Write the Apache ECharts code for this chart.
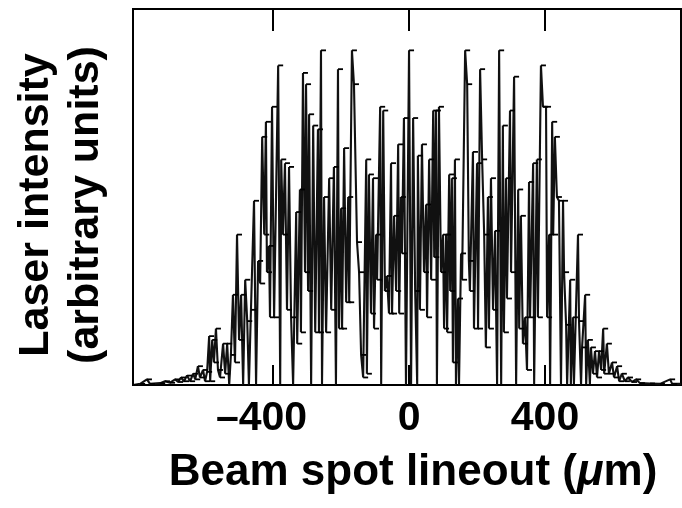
<!DOCTYPE html>
<html>
<head>
<meta charset="utf-8">
<script src="https://cdn.jsdelivr.net/npm/echarts@6.0.0/dist/echarts.min.js"></script>
<style>
  html, body { margin: 0; padding: 0; background: #fff; }
  #main { width: 682px; height: 508px; }
</style>
</head>
<body>
<div id="main"></div>
<script>
// beam spot lineout (um, arbitrary intensity units)
var positionUm = [
  -812, -791, -771, -762, -732, -718, -703, -688, -679, -671,
  -662, -653, -644, -635, -629, -621, -615, -606, -600, -594,
  -588, -585, -579, -574, -568, -562, -556, -547, -541, -535,
  -529, -524, -518, -512, -506, -500, -494, -488, -482, -476,
  -471, -465, -456, -450, -444, -438, -432, -426, -421, -418,
  -412, -409, -403, -397, -385, -379, -376, -371, -365, -359,
  -353, -347, -341, -332, -329, -321, -318, -312, -306, -303,
  -297, -294, -288, -282, -276, -268, -265, -259, -256, -250,
  -244, -235, -229, -221, -215, -209, -206, -200, -197, -191,
  -185, -179, -176, -168, -162, -153, -147, -141, -135, -126,
  -124, -118, -112, -106, -103, -97, -94, -85, -82, -76,
  -71, -65, -59, -53, -50, -44, -38, -32, -29, -24,
  -21, -15, -9, 0, 6, 12, 18, 24, 26, 32,
  38, 44, 50, 53, 59, 65, 71, 74, 79, 82,
  88, 94, 100, 103, 109, 112, 118, 121, 126, 129,
  135, 138, 144, 147, 153, 156, 165, 171, 176, 179,
  188, 191, 200, 203, 209, 215, 221, 226, 232, 235,
  241, 247, 253, 259, 265, 271, 276, 279, 285, 288,
  297, 300, 309, 315, 321, 324, 329, 335, 341, 347,
  353, 356, 365, 368, 376, 379, 388, 394, 403, 406,
  412, 415, 421, 424, 429, 435, 441, 447, 453, 456,
  462, 465, 474, 476, 482, 485, 497, 500, 506, 509,
  518, 521, 526, 532, 535, 541, 547, 553, 559, 565,
  571, 574, 582, 588, 597, 603, 612, 618, 626, 635,
  644, 656, 668, 679, 709, 738, 768, 774, 800
];
var intensity = [
  0, 0.3, 1.5, 0.3, 0.5, 1, 0.6, 1.5, 0.8, 2,
  1, 2.5, 1, 3, 1.5, 5, 2, 4, 1, 3.5,
  13, 1, 12, 6, 15, 4, 2, 11, 3, 11,
  0, 8, 24, 6, 40, 12, 24, 0, 28, 17,
  0, 20, 49, 0, 33, 27, 66, 40, 70, 30,
  37, 18, 74, 18, 85, 0, 60, 40, 59, 20,
  58, 18, 0, 46, 11, 52, 14, 83, 30, 80,
  25, 72, 0, 69, 14, 68, 14, 89, 0, 50,
  14, 55, 20, 58, 0, 84, 15, 47, 15, 63,
  22, 50, 22, 89, 80, 38, 30, 8, 2, 60,
  3, 56, 19, 55, 15, 40, 28, 74, 0, 73,
  25, 29, 19, 59, 19, 45, 25, 64, 19, 50,
  35, 71, 0, 89, 0, 71, 25, 0, 61, 20,
  64, 30, 48, 18, 60, 28, 73, 34, 73, 0,
  74, 30, 40, 15, 40, 14, 56, 25, 55, 6,
  60, 0, 23, 0, 35, 28, 89, 80, 33, 25,
  62, 15, 59, 15, 84, 60, 40, 10, 50, 15,
  55, 20, 41, 0, 89, 0, 69, 14, 55, 23,
  73, 30, 82, 0, 52, 15, 45, 11, 18, 4,
  54, 18, 59, 0, 60, 18, 85, 74, 74, 18,
  40, 0, 70, 40, 66, 50, 49, 0, 49, 30,
  16, 0, 28, 0, 18, 0, 40, 17, 0, 10,
  24, 0, 12, 0, 10, 3, 9, 2, 9, 4,
  15, 3, 11, 3, 6, 2, 5, 1, 3, 1,
  2, 0.8, 1.5, 0.5, 0.4, 0.3, 1.5, 0.3, 0.3
];
var tickValues = [-400, 0, 400];

var lineout = [];
for (var i = 0; i < positionUm.length; i++) {
    lineout.push([positionUm[i], intensity[i]]);
}

var font = '"Liberation Sans", Arial, Helvetica, sans-serif';
var myChart = echarts.init(document.getElementById('main'), null, { renderer: 'canvas' });

var option = {
    animation: false,
    backgroundColor: '#fff',
    grid: {
        left: 133, top: 9, right: 1, bottom: 123,
        show: true, borderColor: '#000', borderWidth: 2
    },
    xAxis: [{
        type: 'value', min: -812, max: 800, position: 'bottom',
        axisLine: { show: false },
        splitLine: { show: false },
        axisTick: { show: true, inside: true, length: 20, customValues: tickValues,
            lineStyle: { color: '#000', width: 2 } },
        axisLabel: {
            customValues: tickValues, margin: 13,
            color: '#000', fontFamily: font, fontWeight: 'bold', fontSize: 41,
            formatter: function (v) {
                // minus sign hangs left of the digits, which sit centred on the tick
                return v < 0 ? '\u2013' + Math.abs(v) + '{sp|}' : String(v);
            },
            rich: { sp: { width: 23 } }
        },
        name: 'Beam spot lineout ({mu|\u03bc}m)',
        nameLocation: 'middle', nameGap: 66,
        nameTextStyle: {
            color: '#000', fontFamily: font, fontWeight: 'bold', fontSize: 44,
            padding: [0, 0, 0, 12],
            rich: { mu: { fontStyle: 'italic', fontFamily: font, fontWeight: 'bold', fontSize: 44, color: '#000' } }
        }
    }, {
        type: 'value', min: -812, max: 800, position: 'top',
        axisLine: { show: false },
        splitLine: { show: false },
        axisLabel: { show: false },
        axisTick: { show: true, inside: true, length: 22, customValues: tickValues,
            lineStyle: { color: '#000', width: 2 } }
    }],
    yAxis: {
        type: 'value', min: 0, max: 100,
        axisLine: { show: false },
        splitLine: { show: false },
        axisTick: { show: false },
        axisLabel: { show: false },
        name: 'Laser intensity\n(arbitrary units)',
        nameLocation: 'middle', nameRotate: 90, nameGap: 22,
        nameTextStyle: {
            color: '#000', fontFamily: font, fontWeight: 'bold', fontSize: 43, lineHeight: 50,
            padding: [0, 16, 0, 0]
        }
    },
    series: [{
        type: 'line',
        data: lineout,
        xAxisIndex: 0,
        symbol: 'rect',
        symbolSize: [5, 1.8],
        symbolOffset: [2.5, 0],
        showAllSymbol: true,
        itemStyle: { color: '#000' },
        lineStyle: { color: '#111', width: 2.1 },
        silent: true
    }]
};

myChart.setOption(option);
window.onresize = myChart.resize;
</script>
</body>
</html>
